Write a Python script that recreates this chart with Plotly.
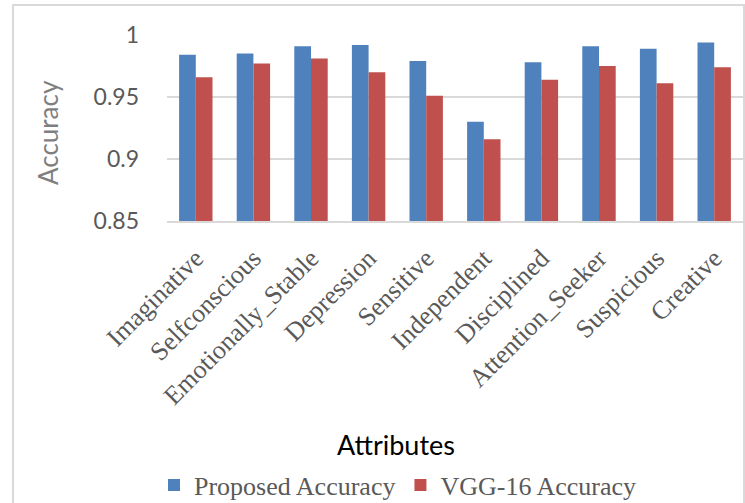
import plotly.graph_objects as go

categories = ["Imaginative", "Selfconscious", "Emotionally_Stable", "Depression", "Sensitive",
              "Independent", "Disciplined", "Attention_Seeker", "Suspicious", "Creative"]
proposed = [0.984, 0.985, 0.991, 0.992, 0.979, 0.930, 0.978, 0.991, 0.989, 0.994]
vgg16 = [0.966, 0.977, 0.981, 0.970, 0.951, 0.916, 0.964, 0.975, 0.961, 0.974]
y_ticks = [0.85, 0.9, 0.95, 1.0]
y_ticktext = ["0.85", "0.9", "0.95", "1"]

SERIF = "Liberation Serif, Times New Roman, serif"
SANS = "Lato, Open Sans, sans-serif"

fig = go.Figure()
fig.add_trace(go.Bar(x=categories, y=proposed, name="Proposed Accuracy",
                     marker=dict(color="#4F81BD", line=dict(width=0))))
fig.add_trace(go.Bar(x=categories, y=vgg16, name="VGG-16 Accuracy",
                     marker=dict(color="#C0504D", line=dict(width=0))))

L, R, T, B = 167, 2, 34, 282
W, H = 745, 503
pw = W - L - R
ph = H - T - B

def px(x):
    return (x - L) / pw

def py(y):
    return (H - B - y) / ph

fig.update_layout(
    width=W, height=H,
    margin=dict(l=L, r=R, t=T, b=B, pad=0, autoexpand=False),
    paper_bgcolor="white", plot_bgcolor="white",
    barmode="group", bargap=0.42, bargroupgap=0.0,
    showlegend=True,
    legend=dict(orientation="h", xref="container", yref="container",
                x=398 / W, y=1 - 485 / H, xanchor="center", yanchor="middle",
                font=dict(family=SERIF, size=26, color="#595959"),
                itemwidth=30, traceorder="normal", bgcolor="rgba(0,0,0,0)"),
    xaxis=dict(type="category", showgrid=False, showline=True, linecolor="#D9D9D9", linewidth=1.5,
               tickangle=-45, tickfont=dict(family=SERIF, size=26, color="#595959"),
               ticks="", ticklabelstandoff=10, fixedrange=True, automargin=False),
    yaxis=dict(range=[0.85, 1.0008], tickvals=y_ticks, ticktext=y_ticktext,
               showgrid=True, gridcolor="#D9D9D9", gridwidth=1.5, zeroline=False, showline=False,
               tickfont=dict(family=SANS, size=23, color="#595959"),
               ticks="", ticklabelstandoff=27, fixedrange=True, automargin=False),
    annotations=[
        dict(text="Accuracy", x=px(48), y=py(133), xref="paper", yref="paper", showarrow=False,
             textangle=-90, font=dict(family=SANS, size=26, color="#7F7F7F"),
             xanchor="center", yanchor="middle"),
        dict(text="Attributes", x=px(396), y=py(444), xref="paper", yref="paper", showarrow=False,
             font=dict(family=SANS, size=27, color="#000000"),
             xanchor="center", yanchor="middle"),
    ],
    shapes=[
        dict(type="rect", xref="paper", yref="paper", x0=px(13), x1=px(744), y0=py(5), y1=py(515),
             line=dict(color="#D9D9D9", width=2), fillcolor="rgba(0,0,0,0)", layer="below"),
    ],
)

fig.write_html("out.html")
